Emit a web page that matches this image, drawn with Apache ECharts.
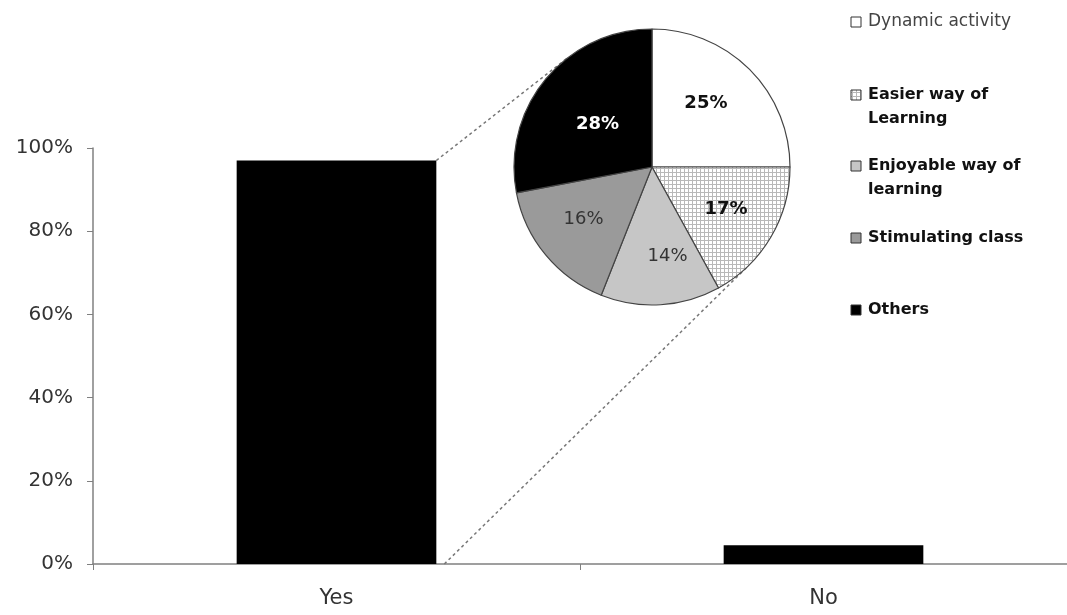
<!DOCTYPE html>
<html>
<head>
<meta charset="utf-8">
<script src="https://cdn.jsdelivr.net/npm/echarts@6/dist/echarts.min.js"></script>
<style>
  html, body { margin: 0; padding: 0; background: #fff; }
  #chart { width: 1067px; height: 615px; }
</style>
</head>
<body>
<div id="chart"></div>
<script>
// ---- data ----
const categories = ['Yes', 'No'];
const barValues = [97, 4.5];
const yTickValues = [0, 20, 40, 60, 80, 100];
const pieNames = ['Dynamic activity', 'Easier way of\nLearning', 'Enjoyable way of\nlearning', 'Stimulating class', 'Others'];
const pieValues = [25, 17, 14, 16, 28];

// ---- styles / layout ----
const FONT = '"DejaVu Sans", "Liberation Sans", Arial, sans-serif';
const pieCenter = [652, 167];
const pieRadius = 138;
const barWidthPct = 0.41;

function makePattern() {
  const c = document.createElement('canvas');
  c.width = 4; c.height = 4;
  const g = c.getContext('2d');
  g.fillStyle = '#ffffff'; g.fillRect(0, 0, 4, 4);
  g.fillStyle = '#b8b8b8';
  g.fillRect(0, 0, 4, 1);
  g.fillRect(0, 0, 1, 4);
  return c;
}
const pattern = { image: makePattern(), repeat: 'repeat' };
const pieColors = ['#ffffff', pattern, '#c6c6c6', '#9a9a9a', '#000000'];
const labelStyles = [
  { color: '#111', fontWeight: 'bold', offset: [3, -13] },
  { color: '#111', fontWeight: 'bold', offset: [12, 6] },
  { color: '#333', fontWeight: 'normal', offset: [11, 17] },
  { color: '#333', fontWeight: 'normal', offset: [-13, 6] },
  { color: '#fff', fontWeight: 'bold', offset: [1, 3] }
];
const legendCenters = [22, 95, 166, 238, 310];
const legendBold = [false, true, true, true, true];

const chart = echarts.init(document.getElementById('chart'), null, { renderer: 'canvas' });

const option = {
  animation: false,
  backgroundColor: '#ffffff',
  grid: { left: 93, right: 0, top: 148, bottom: 51, containLabel: false },
  xAxis: {
    type: 'category',
    data: categories,
    axisLine: { lineStyle: { color: '#808080', width: 1.5 } },
    axisTick: { show: true, length: 6, alignWithLabel: false, lineStyle: { color: '#808080' } },
    axisLabel: { fontFamily: FONT, fontSize: 21, color: '#333', margin: 24 }
  },
  yAxis: {
    type: 'value',
    min: 0, max: 100, interval: 20,
    axisLine: { show: true, lineStyle: { color: '#808080', width: 1.5 } },
    axisTick: { show: true, length: 6, lineStyle: { color: '#808080' } },
    splitLine: { show: false },
    axisLabel: {
      fontFamily: FONT, fontSize: 20, color: '#333', margin: 20,
      formatter: v => (yTickValues.indexOf(v) >= 0 ? v + '%' : '')
    }
  },
  series: [
    {
      type: 'bar',
      data: barValues,
      barWidth: (barWidthPct * 100) + '%',
      itemStyle: { color: '#000000' },
      z: 2
    },
    {
      type: 'pie',
      center: pieCenter,
      radius: pieRadius,
      startAngle: 90,
      clockwise: true,
      z: 5,
      label: {
        show: true, position: 'inside', formatter: '{c}%',
        fontFamily: FONT, fontSize: 18
      },
      labelLine: { show: false },
      itemStyle: { borderColor: '#444', borderWidth: 1.2 },
      emphasis: { disabled: true },
      data: pieNames.map((n, i) => ({
        name: n,
        value: pieValues[i],
        itemStyle: { color: pieColors[i] },
        label: labelStyles[i]
      }))
    }
  ]
};
chart.setOption(option);

// connector lines (tangents from bar corners to pie) and legend
function tangent(px, py, cx, cy, r, sign) {
  const dx = cx - px, dy = cy - py;
  const d = Math.hypot(dx, dy);
  const a = Math.atan2(dy, dx);
  const t = Math.asin(r / d);
  const ang = a + sign * t;
  const L = Math.sqrt(d * d - r * r);
  return [px + L * Math.cos(ang), py + L * Math.sin(ang)];
}
const pTop = chart.convertToPixel({ seriesIndex: 0 }, [categories[0], barValues[0]]);
const pBase = chart.convertToPixel({ seriesIndex: 0 }, [categories[0], 0]);
const pNo = chart.convertToPixel({ seriesIndex: 0 }, [categories[1], 0]);
const bw = (pNo[0] - pBase[0]) * barWidthPct;
const cornerTop = [pTop[0] + bw / 2, pTop[1]];
const cornerBot = [pBase[0] + bw / 2 + 8, pBase[1]];
const tTop = tangent(cornerTop[0], cornerTop[1], pieCenter[0], pieCenter[1], pieRadius, -1);
const tBot = tangent(cornerBot[0], cornerBot[1], pieCenter[0], pieCenter[1], pieRadius, 1);

const graphics = [];
[[cornerTop, tTop], [cornerBot, tBot]].forEach(([a, b]) => {
  graphics.push({
    type: 'line', z: 1, silent: true,
    shape: { x1: a[0], y1: a[1], x2: b[0], y2: b[1] },
    style: { stroke: '#777', lineWidth: 1.5, lineDash: [3, 3] }
  });
});
pieNames.forEach((n, i) => {
  const cy = legendCenters[i];
  graphics.push({
    type: 'rect', z: 10, silent: true,
    shape: { x: 851, y: cy - 5, width: 10, height: 10 },
    style: { fill: pieColors[i], stroke: '#333', lineWidth: 1 }
  });
  graphics.push({
    type: 'text', z: 10, silent: true,
    x: 868, y: cy - 12,
    style: {
      text: n,
      fontFamily: FONT,
      fontSize: legendBold[i] ? 16 : 17,
      fontWeight: legendBold[i] ? 'bold' : 'normal',
      fill: legendBold[i] ? '#111' : '#444',
      lineHeight: 24,
      verticalAlign: 'top',
      align: 'left'
    }
  });
});
chart.setOption({ graphic: graphics });
</script>
</body>
</html>
